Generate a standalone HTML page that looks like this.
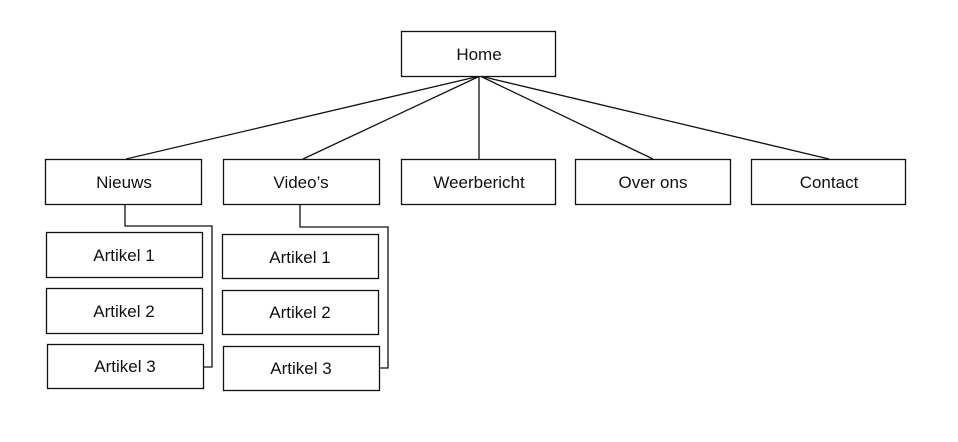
<!DOCTYPE html>
<html><head><meta charset="utf-8"><style>
html,body{margin:0;padding:0;background:#fff;}
svg{display:block;}
text{font-family:"Liberation Sans",Arial,sans-serif;font-size:17px;fill:#111;text-anchor:middle;}
rect{fill:#fff;stroke:#111;stroke-width:1.3;}
line,polyline{stroke:#111;stroke-width:1.3;fill:none;}
</style></head><body>
<svg width="958" height="442" viewBox="0 0 958 442">
<line x1="480" y1="76" x2="126" y2="159"/>
<line x1="480" y1="76" x2="303" y2="159"/>
<line x1="479" y1="76" x2="479" y2="159"/>
<line x1="480" y1="76" x2="653" y2="159"/>
<line x1="480" y1="76" x2="829" y2="159"/>
<polyline points="125,204 125,226 212,226 212,367 203,367"/>
<polyline points="300,204 300,227 388,227 388,368 380,368"/>
<rect x="401.5" y="31.5" width="154" height="45"/><text x="479" y="60">Home</text>
<rect x="45.5" y="159.5" width="156" height="45"/><text x="124" y="188">Nieuws</text>
<rect x="223.5" y="159.5" width="156" height="45"/><text x="301" y="188">Video’s</text>
<rect x="401.5" y="159.5" width="154" height="45"/><text x="479" y="188">Weerbericht</text>
<rect x="575.5" y="159.5" width="155" height="45"/><text x="653" y="188">Over ons</text>
<rect x="751.5" y="159.5" width="154" height="45"/><text x="829" y="188">Contact</text>
<rect x="46.5" y="232.5" width="156" height="45"/><text x="124" y="261">Artikel 1</text>
<rect x="46.5" y="288.5" width="156" height="45"/><text x="124" y="317">Artikel 2</text>
<rect x="47.5" y="344.5" width="156" height="44"/><text x="125" y="372">Artikel 3</text>
<rect x="222.5" y="234.5" width="156" height="44"/><text x="300" y="263">Artikel 1</text>
<rect x="222.5" y="290.5" width="156" height="44"/><text x="300" y="318">Artikel 2</text>
<rect x="223.5" y="346.5" width="156" height="44"/><text x="301" y="374">Artikel 3</text>
</svg>
</body></html>
